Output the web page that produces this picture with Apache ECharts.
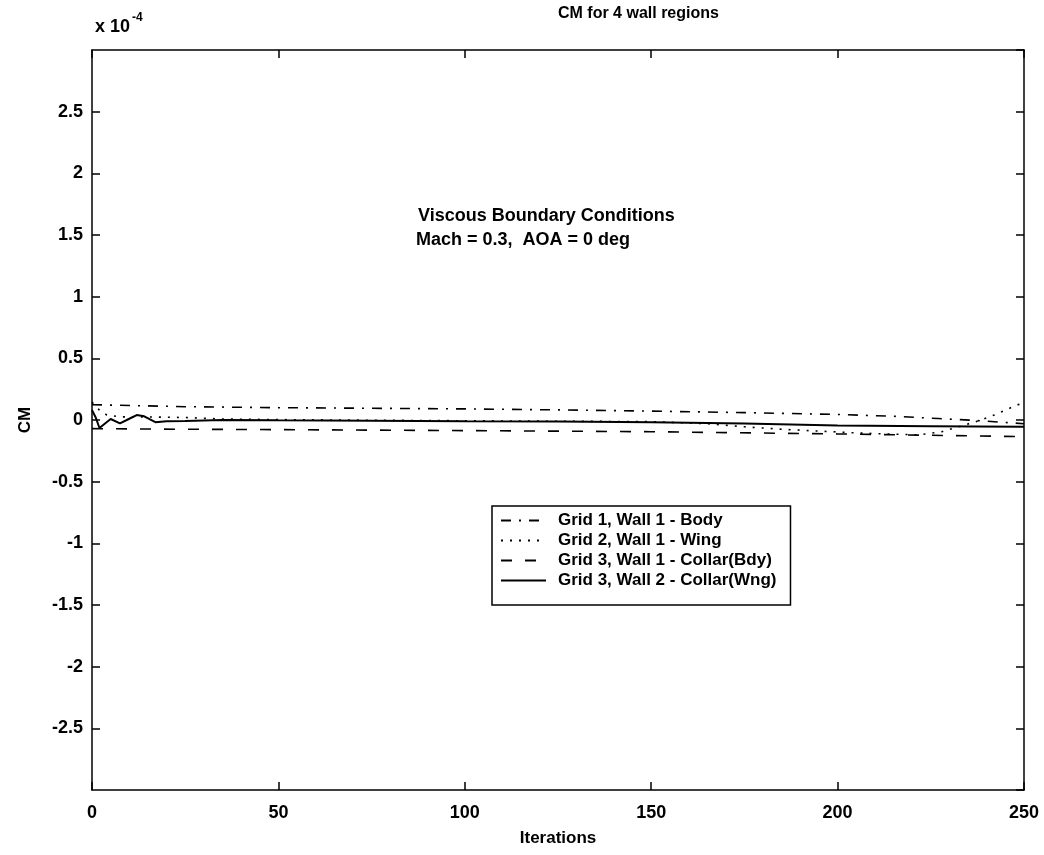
<!DOCTYPE html>
<html>
<head>
<meta charset="utf-8">
<script src="https://cdn.jsdelivr.net/npm/echarts@6/dist/echarts.min.js"></script>
<style>
  html, body { margin: 0; padding: 0; background: #fff; }
  #chart { width: 1044px; height: 855px; }
</style>
</head>
<body>
<div id="chart"></div>
<script>
// Pitching-moment history (units of 1e-4) for the four wall regions
const bodyIter = [0, 25, 50, 75, 100, 125, 150, 175, 200, 215, 227, 236, 244, 250];
const bodyCM   = [0.124, 0.108, 0.100, 0.095, 0.090, 0.082, 0.072, 0.060, 0.045, 0.030, 0.012, -0.002, -0.018, -0.030];

const wingIter = [0, 2, 4, 8, 15, 25, 35, 50, 75, 100, 125, 150, 165, 175, 185, 195, 205, 215, 222, 228, 233, 238, 242, 245, 248, 250];
const wingCM   = [0.145, 0.080, 0.040, 0.025, 0.025, 0.020, 0.008, 0.003, -0.002, -0.006, -0.010, -0.013, -0.030, -0.055, -0.075, -0.090, -0.105, -0.115, -0.120, -0.095, -0.050, -0.005, 0.040, 0.080, 0.120, 0.140];

const collarBdyIter = [0, 25, 50, 100, 150, 200, 250];
const collarBdyCM   = [-0.070, -0.075, -0.078, -0.086, -0.095, -0.113, -0.135];

const collarWngIter = [0, 1, 2, 3, 5, 7.5, 10, 12, 14, 17, 20, 25, 35, 50, 75, 100, 125, 150, 175, 200, 225, 250];
const collarWngCM   = [0.080, 0.020, -0.065, -0.040, 0.008, -0.027, 0.010, 0.040, 0.030, -0.018, -0.010, -0.008, 0.000, -0.003, -0.006, -0.010, -0.013, -0.018, -0.028, -0.045, -0.050, -0.055];

const seriesNames = [
  'Grid 1, Wall 1 - Body',
  'Grid 2, Wall 1 - Wing',
  'Grid 3, Wall 1 - Collar(Bdy)',
  'Grid 3, Wall 2 - Collar(Wng)'
];

const xTicks = { min: 0, max: 250, step: 50 };
const yTicks = { min: -3, max: 3, step: 0.5 };

const FONT = '"Liberation Sans", Arial, Helvetica, sans-serif';
const pairs = (xs, ys) => xs.map((x, i) => [x, ys[i]]);

const chart = echarts.init(document.getElementById('chart'), null, { renderer: 'canvas' });

const axisCommon = {
  type: 'value',
  axisLine: { show: true, onZero: false, lineStyle: { color: '#000', width: 1.5 } },
  axisTick: { show: true, inside: true, length: 8, lineStyle: { color: '#000', width: 1.5 } },
  splitLine: { show: false }
};
const labelStyle = { color: '#000', fontFamily: FONT, fontSize: 18, fontWeight: 'bold' };

const lineSeries = (name, xs, ys, type, width) => ({
  name,
  type: 'line',
  data: pairs(xs, ys),
  symbol: 'none',
  smooth: false,
  animation: false,
  itemStyle: { color: '#000', opacity: 0 },
  lineStyle: { color: '#000', width, type }
});

chart.setOption({
  backgroundColor: '#fff',
  animation: false,
  grid: { left: 92, right: 20, top: 50, bottom: 65 },
  xAxis: [
    Object.assign({}, axisCommon, {
      position: 'bottom', min: xTicks.min, max: xTicks.max, interval: xTicks.step,
      axisLabel: Object.assign({ margin: 14 }, labelStyle),
      name: 'Iterations', nameLocation: 'middle', nameGap: 40,
      nameTextStyle: Object.assign({}, labelStyle, { fontSize: 17 })
    }),
    Object.assign({}, axisCommon, {
      position: 'top', min: xTicks.min, max: xTicks.max, interval: xTicks.step,
      axisLabel: { show: false }
    })
  ],
  yAxis: [
    Object.assign({}, axisCommon, {
      position: 'left', min: yTicks.min, max: yTicks.max, interval: yTicks.step,
      axisLabel: Object.assign({ margin: 9, showMinLabel: false, showMaxLabel: false }, labelStyle),
      name: 'CM', nameLocation: 'middle', nameGap: 58, nameRotate: 90,
      nameTextStyle: Object.assign({}, labelStyle, { fontSize: 17 })
    }),
    Object.assign({}, axisCommon, {
      position: 'right', min: yTicks.min, max: yTicks.max, interval: yTicks.step,
      axisLabel: { show: false }
    })
  ],
  legend: {
    orient: 'vertical',
    left: 492,
    top: 506,
    data: seriesNames,
    itemWidth: 45,
    itemHeight: 10,
    itemGap: 3,
    padding: [6, 14, 16, 8],
    borderColor: '#000',
    borderWidth: 1.5,
    backgroundColor: '#fff',
    selectedMode: false,
    itemStyle: { opacity: 0 },
    textStyle: { color: '#000', fontFamily: FONT, fontSize: 17, fontWeight: 'bold', padding: [0, 0, 0, 7] }
  },
  series: [
    lineSeries(seriesNames[0], bodyIter, bodyCM, [10, 8, 2, 8], 1.6),
    lineSeries(seriesNames[1], wingIter, wingCM, [2, 7], 1.6),
    lineSeries(seriesNames[2], collarBdyIter, collarBdyCM, [11, 13], 1.6),
    lineSeries(seriesNames[3], collarWngIter, collarWngCM, 'solid', 2)
  ],
  graphic: [
    {
      type: 'text', left: 558, top: 6,
      style: { text: 'CM for 4 wall regions', x: 0, fill: '#000', font: 'bold 16px ' + FONT, textAlign: 'center' }
    },
    {
      type: 'text', left: 95, top: 12,
      style: {
        text: '{b|x 10}{s|-4}',
        rich: {
          b: { fill: '#000', fontFamily: FONT, fontSize: 18, fontWeight: 'bold', verticalAlign: 'bottom' },
          s: { fill: '#000', fontFamily: FONT, fontSize: 12, fontWeight: 'bold', verticalAlign: 'top', padding: [0, 0, 12, 2] }
        }
      }
    },
    {
      type: 'text', left: 418, top: 207,
      style: { text: 'Viscous Boundary Conditions', fill: '#000', font: 'bold 18px ' + FONT }
    },
    {
      type: 'text', left: 416, top: 231,
      style: { text: 'Mach = 0.3,  AOA = 0 deg', fill: '#000', font: 'bold 18px ' + FONT }
    }
  ]
});
</script>
</body>
</html>
